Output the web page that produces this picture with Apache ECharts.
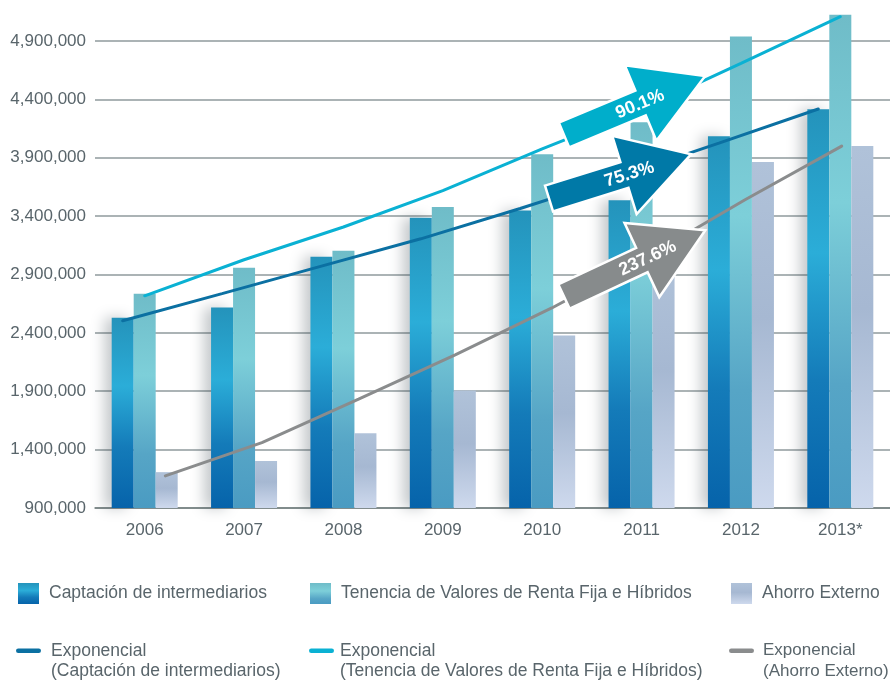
<!DOCTYPE html>
<html>
<head>
<meta charset="utf-8">
<script src="https://cdn.jsdelivr.net/npm/echarts@6/dist/echarts.min.js"></script>
<style>
  html, body { margin: 0; padding: 0; background: #ffffff; }
  #chart { width: 890px; height: 682px; }
</style>
</head>
<body>
<div id="chart"></div>
<script>
// ---- data ----
const years = ['2006', '2007', '2008', '2009', '2010', '2011', '2012', '2013*'];
const captacion = [2529000, 2617000, 3052000, 3385000, 3447000, 3535000, 4084000, 4314000];
const tenencia  = [2734000, 2958000, 3103000, 3478000, 3930000, 4203000, 4937000, 5124000];
const ahorro    = [1207000, 1303000, 1540000, 1906000, 2378000, 3050000, 3862000, 3999000];
// exponential trend lines
const trendCaptacion = [2503000, 2736000, 2971000, 3205000, 3465000, 3738000, 4024000, 4317000];
const trendTenencia  = [2717000, 3026000, 3306000, 3618000, 3976000, 4314000, 4707000, 5107000];
const trendAhorro    = [1175000, 1460000, 1832000, 2212000, 2613000, 3056000, 3540000, 3999000];
const yTicks = [900000, 1400000, 1900000, 2400000, 2900000, 3400000, 3900000, 4400000, 4900000];
const growthLabels = ['90.1%', '75.3%', '237.6%'];
const seriesNames = ['Captación de intermediarios', 'Tenencia de Valores de Renta Fija e Híbridos', 'Ahorro Externo'];
const trendNames = seriesNames.map(n => 'Exponencial\n(' + n + ')');

// ---- styling ----
const FONT = 'Liberation Sans, Arial, Helvetica, sans-serif';
const TEXT = '#59656b';
const Y_MIN = 900000, Y_MAX = 5250000;
const BAR_W = 22;
const lineColors = ['#0b70a2', '#0ab1d3', '#8a8c8d'];
const grad = stops => new echarts.graphic.LinearGradient(0, 0, 0, 1,
  stops.map(([offset, color]) => ({ offset, color })));

const barColors = [
  grad([[0, '#2493bb'], [0.36, '#2badd8'], [0.68, '#147bb9'], [1, '#0663aa']]),
  grad([[0, '#6fbcc8'], [0.38, '#7dcfd9'], [0.75, '#56a5c6'], [1, '#4a9bc2']]),
  grad([[0, '#b0c2d9'], [0.45, '#a6b8d2'], [1, '#ced9ed']])
];

// grids: the main one carries bars and axes; the two shifted copies
// let each trend line run through the centre of its own bar.
const G = { top: -2, bottom: 174 };
const grids = [
  { left: 95, right: 0, top: G.top, bottom: G.bottom },
  { left: 95 - BAR_W, right: BAR_W, top: G.top, bottom: G.bottom },
  { left: 95 + BAR_W, right: -BAR_W, top: G.top, bottom: G.bottom }
];

const hiddenX = i => ({ type: 'category', gridIndex: i, data: years, show: false });
const hiddenY = i => ({ type: 'value', gridIndex: i, min: Y_MIN, max: Y_MAX, show: false, splitLine: { show: false } });

const bars = [captacion, tenencia, ahorro].map((d, i) => ({
  name: seriesNames[i],
  type: 'bar',
  xAxisIndex: 0, yAxisIndex: 0,
  barWidth: BAR_W,
  barGap: '0%',
  data: d,
  z: 2,
  itemStyle: Object.assign({ color: barColors[i] }, i === 0 ? {
    shadowColor: 'rgba(40,55,65,0.28)', shadowBlur: 14, shadowOffsetX: -7
  } : {})
}));

const trendGrid = [1, 0, 2];
const lines = [trendCaptacion, trendTenencia, trendAhorro].map((d, i) => ({
  name: trendNames[i],
  type: 'line',
  xAxisIndex: trendGrid[i], yAxisIndex: trendGrid[i],
  data: d,
  symbol: 'none',
  z: 4,
  itemStyle: { color: lineColors[i] },
  lineStyle: { color: lineColors[i], width: 3, cap: 'round' }
}));

// legend, one component per entry
const legendBase = { orient: 'horizontal', padding: 0, selectedMode: false };
const legendText = { fontFamily: FONT, fontSize: 17.5, color: TEXT };
const legendRow1 = [18, 310, 731].map((left, i) => Object.assign({}, legendBase, {
  left, top: 583,
  itemWidth: 21, itemHeight: 21,
  data: [{ name: seriesNames[i], icon: 'rect' }],
  textStyle: Object.assign({}, legendText, { padding: [0, 0, 0, 5] })
}));
// short rounded stroke sitting beside the first line of the two-line label
const trendIcon = 'path://M2.25,0H22.75A2.25,2.25,0,0,1,22.75,4.5H2.25A2.25,2.25,0,0,1,2.25,0Z M0,25L25,25';
const row2Left = [16, 309, 729];
const row2Pad = [5, 1, 4];
const row2Size = [17.5, 17.5, 17];
const legendRow2 = row2Left.map((left, i) => Object.assign({}, legendBase, {
  left, top: 640.5,
  itemWidth: 25, itemHeight: 25,
  itemStyle: { borderWidth: 0 },
  data: [{ name: trendNames[i], icon: trendIcon }],
  textStyle: Object.assign({}, legendText, {
    fontSize: row2Size[i], lineHeight: 20.5, padding: [0, 0, 0, row2Pad[i]]
  })
}));

// block arrows with the growth figures
const arrowSpecs = [
  { text: growthLabels[1], color: '#0079a7', x: 549, y: 198.5, angle: 17.3, len: 149, tx: 84 },
  { text: growthLabels[2], color: '#878b8c', x: 564, y: 296.5, angle: 25.1, len: 156, tx: 92 },
  { text: growthLabels[0], color: '#00aecb', x: 564, y: 135, angle: 22.7, len: 153, tx: 82 }
];
const arrows = arrowSpecs.map(a => {
  const h = 13.5, H = 41, head = 70, s = a.len - head;
  return {
    type: 'group',
    x: a.x, y: a.y,
    rotation: a.angle * Math.PI / 180,
    z: 100,
    children: [
      {
        type: 'polygon',
        z: 100,
        shape: { points: [[0, -h], [s, -h], [s, -H], [a.len, 0], [s, H], [s, h], [0, h]] },
        style: { fill: a.color, stroke: '#ffffff', lineWidth: 2.5, lineJoin: 'miter' }
      },
      {
        type: 'text',
        z: 101,
        x: a.tx, y: 1,
        style: {
          text: a.text, fill: '#ffffff', fontFamily: FONT, fontSize: 18, fontWeight: 'bold',
          align: 'center', verticalAlign: 'middle'
        }
      }
    ]
  };
});

const chart = echarts.init(document.getElementById('chart'), null, { renderer: 'canvas' });
chart.setOption({
  animation: false,
  backgroundColor: '#ffffff',
  grid: grids,
  xAxis: [
    {
      type: 'category', gridIndex: 0, data: years,
      axisLine: { show: true, lineStyle: { color: '#74807f', width: 1.5 } },
      axisTick: { show: false },
      axisLabel: { color: TEXT, fontFamily: FONT, fontSize: 17, margin: 14 }
    },
    hiddenX(1), hiddenX(2)
  ],
  yAxis: [
    {
      type: 'value', gridIndex: 0, min: Y_MIN, max: Y_MAX,
      axisLine: { show: false },
      axisTick: { show: false, customValues: yTicks },
      axisLabel: {
        customValues: yTicks,
        color: TEXT, fontFamily: FONT, fontSize: 17, margin: 9,
        formatter: v => v.toLocaleString('en-US')
      },
      splitLine: { show: true, lineStyle: { color: '#8f9a9c', width: 1.5 } }
    },
    hiddenY(1), hiddenY(2)
  ],
  legend: legendRow1.concat(legendRow2),
  series: bars.concat(lines),
  graphic: arrows
});
</script>
</body>
</html>
